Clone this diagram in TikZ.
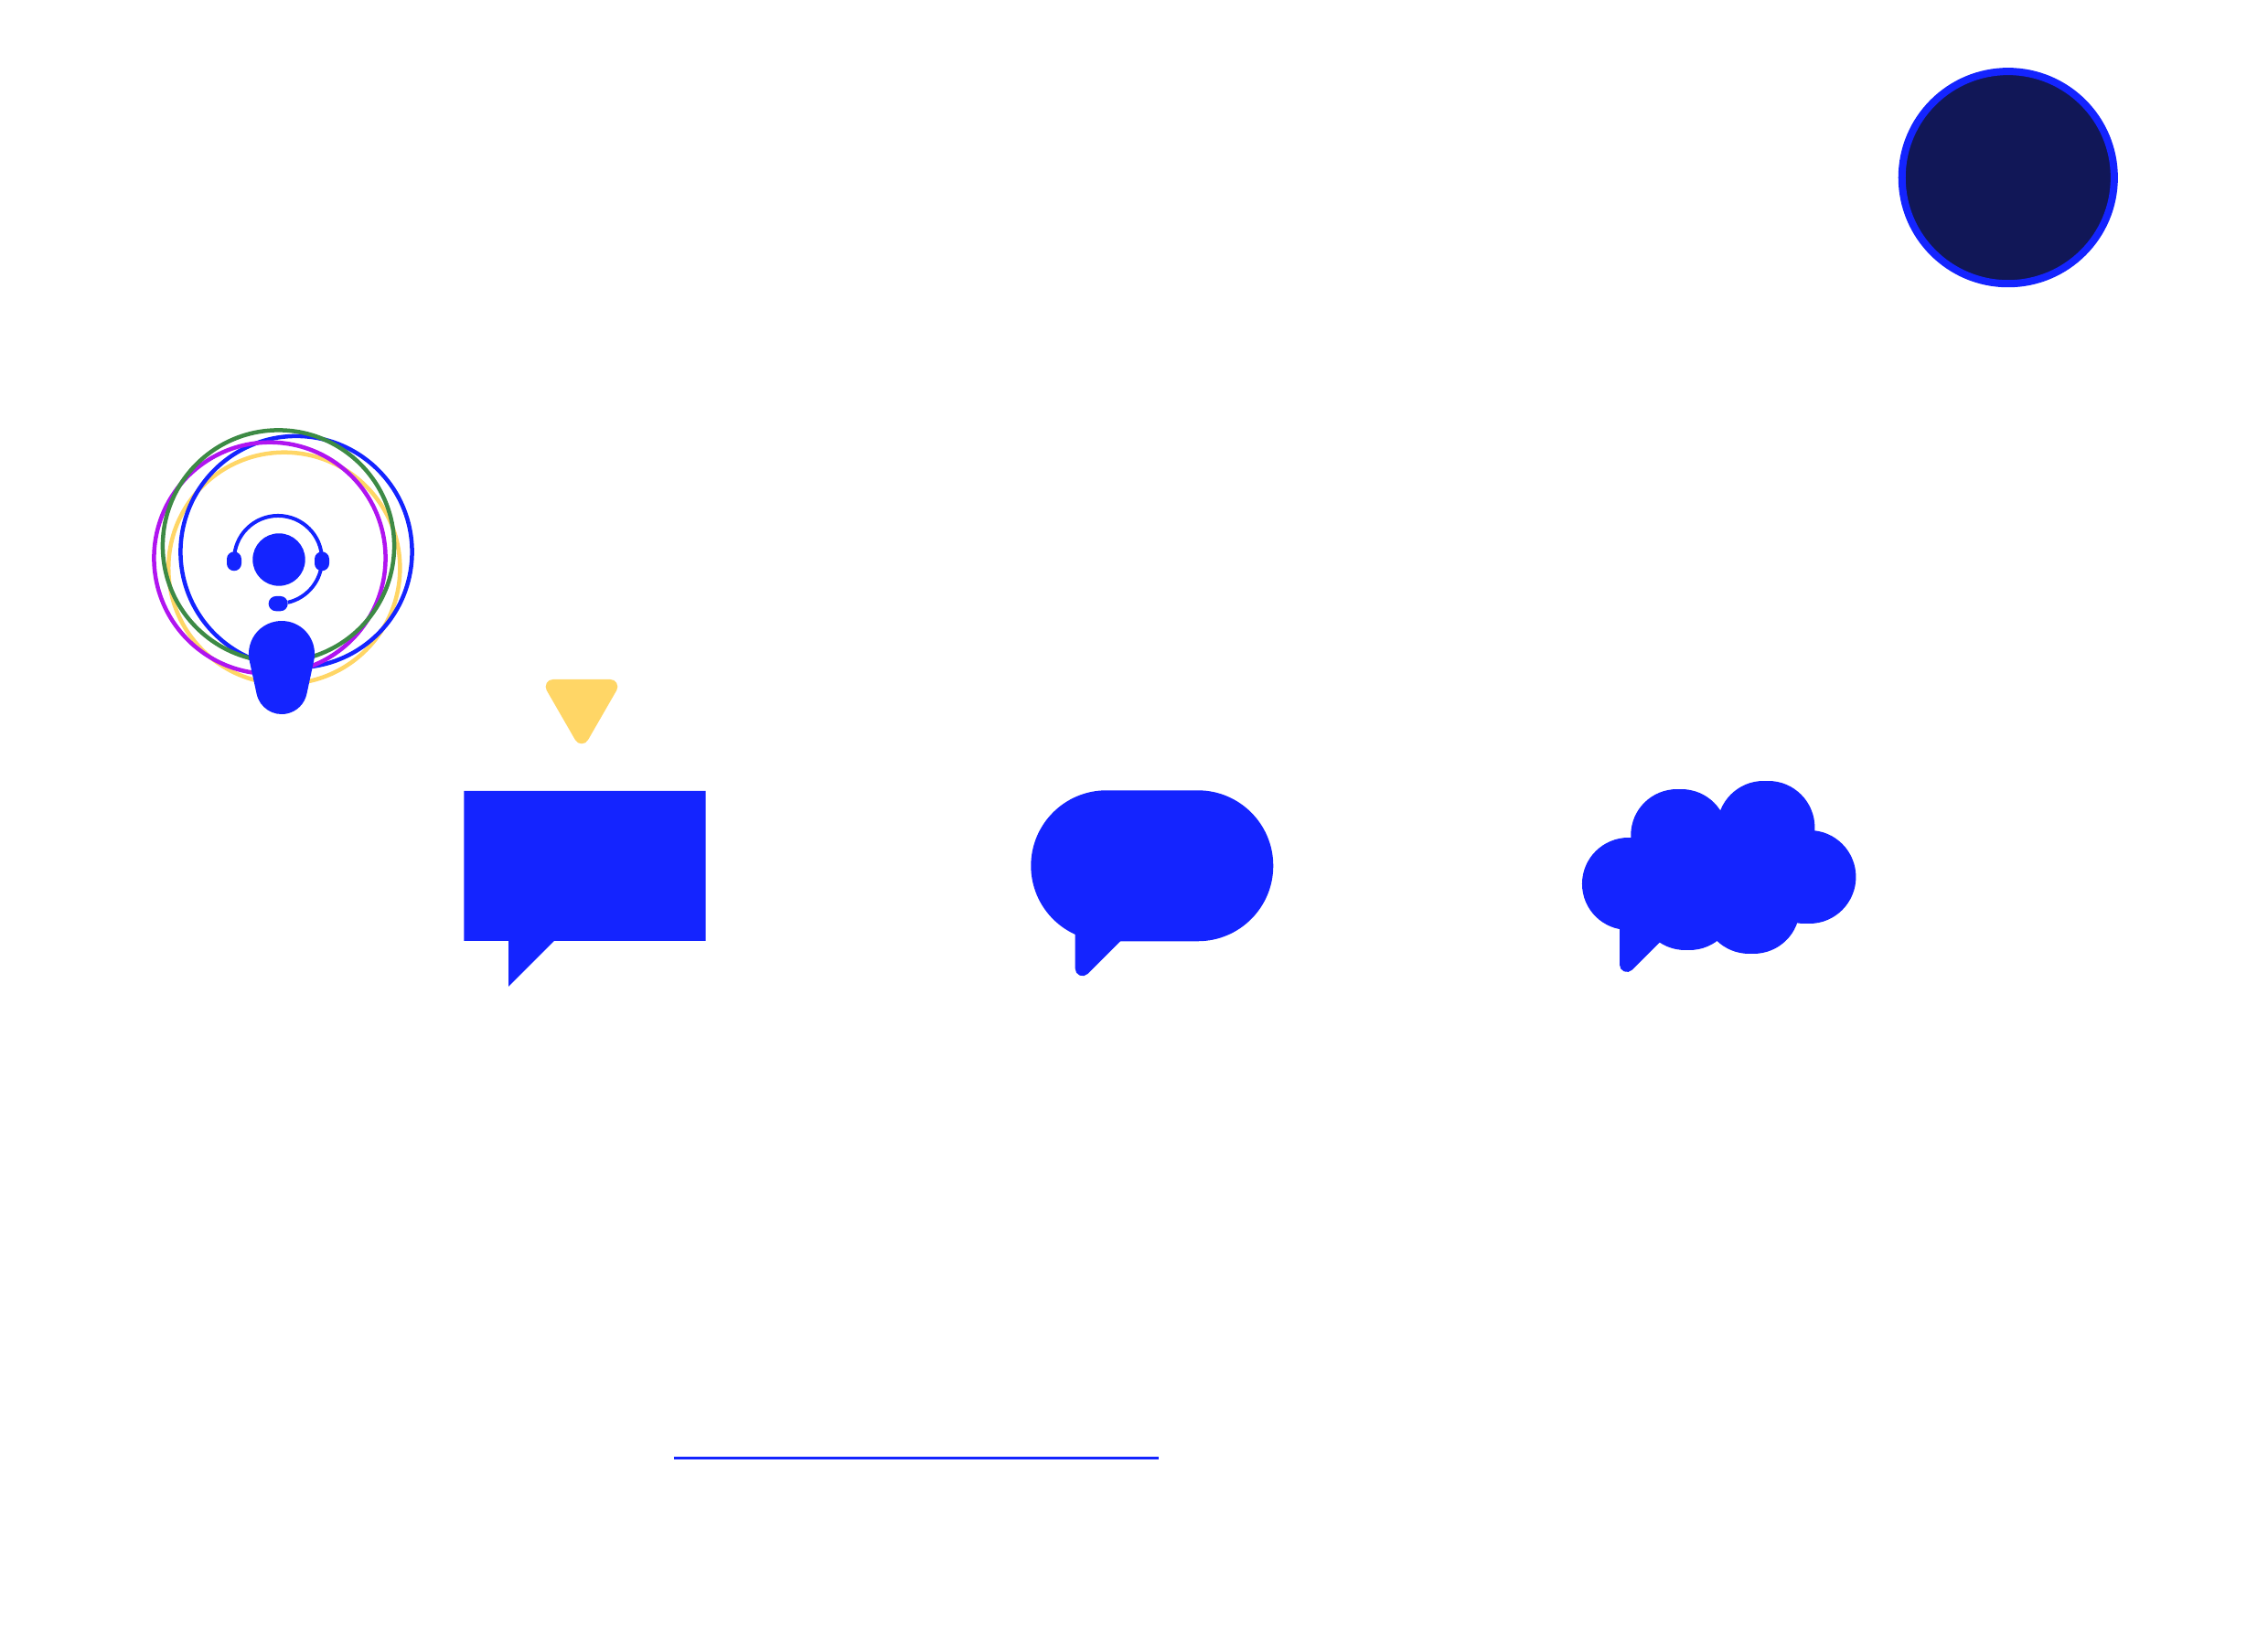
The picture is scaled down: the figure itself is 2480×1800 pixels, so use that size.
\documentclass[tikz,border=0pt]{standalone}
\usepackage{tikz}
\definecolor{brandblue}{HTML}{1424FF}
\definecolor{brandnavy}{HTML}{111757}
\definecolor{brandyellow}{HTML}{FFD666}
\definecolor{brandpurple}{HTML}{B014F0}
\definecolor{brandgreen}{HTML}{3D8A45}
\tikzset{
	ring/.style={line width=0.045cm,radius=1.265cm},
	cloudlobe/.style={brandblue,line width=1.014cm,line cap=round},
	softfill/.style={line width=0.16cm,line join=round},
}
\begin{document}
\begin{tikzpicture}[x=0.01cm,y=0.01cm]
	\useasboundingbox (0,0) rectangle (2480,1800);
	
	% Draw the dark disc
	\draw[line width=0.08cm,brandblue,fill=brandnavy] (2195.8,1605.8) circle[radius=1.16cm];
	
	% Draw the rings behind the agent
	\draw[ring,brandyellow] (310.8,1178.7) circle;
	\draw[ring,brandblue] (324,1196.5) circle;
	\draw[ring,brandpurple] (295,1189.7) circle;
	\draw[ring,brandgreen] (304.5,1203) circle;
	
	% Draw the agent with headset
	\fill[brandblue] (305,1188) circle[radius=0.287cm];
	\draw[line width=0.04cm,brandblue] (256,1188) arc[start angle=180, end angle=-77, radius=0.48cm];
	\foreach \earx in {248,344}
		\fill[brandblue,rounded corners=0.08cm] (\earx,1196.7) rectangle ++(16,-21);
	\fill[brandblue,rounded corners=0.08cm] (293.7,1148) rectangle (314.7,1131.7);
	\fill[brandblue] (343.2,1077.4) arc[start angle=-12.15, end angle=192.15, radius=0.36cm]
		-- (280.63,1041.1) arc[start angle=192.15, end angle=347.85, radius=0.28cm] -- cycle;
	
	% Draw the small triangle
	\filldraw[softfill,brandyellow] (604.7,1049) -- (667.3,1049) -- (636,994.7) -- cycle;
	
	% Draw the square bubble
	\fill[brandblue] (507.3,935) -- (771.7,935) -- (771.7,771) -- (606,771) -- (556,721) -- (556,771) -- (507.3,771) -- cycle;
	
	% Draw the round bubble
	\fill[brandblue,rounded corners=0.825cm] (1127.3,935.7) rectangle (1392.3,770.7);
	\filldraw[softfill,brandblue] (1183.7,800) -- (1183.7,740.7) -- (1240,797) -- cycle;
	
	% Draw the cloud bubble
	\foreach \xa/\xb/\ya in {1780.7/1781/833.3,1834/1838.3/886.7,1928.3/1933.7/895,1973/1978.7/841,1842.7/1847.3/811.7,1912.7/1917.3/807.3}
		\draw[cloudlobe] (\xa,\ya) -- (\xb,\ya);
	\fill[brandblue] (1790,880) rectangle (1970,800);
	\filldraw[softfill,brandblue] (1779,810) -- (1779,745) -- (1840,806) -- cycle;
	
	% Draw the rule
	\draw[line width=0.033cm,brandblue] (736.5,205.5) -- (1267,205.5);
	
\end{tikzpicture}
\end{document}
